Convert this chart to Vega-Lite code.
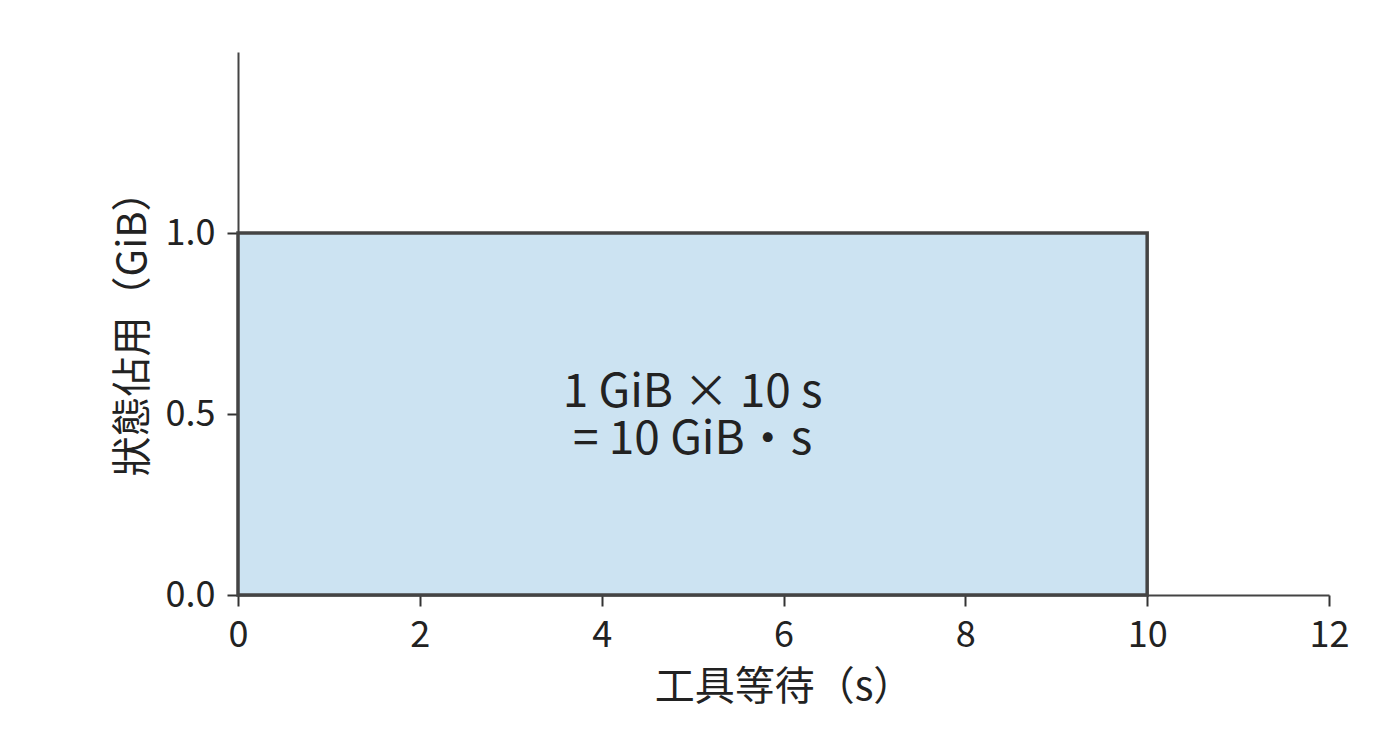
{
  "$schema": "https://vega.github.io/schema/vega-lite/v6.json",
  "width": 1091,
  "height": 543,
  "autosize": {"type": "none"},
  "padding": {"left": 238, "top": 52, "right": 71, "bottom": 149},
  "background": "white",
  "config": {
    "view": {"stroke": null},
    "font": "Noto Sans CJK TC",
    "axis": {
      "grid": false,
      "domainColor": "#444444",
      "domainWidth": 2,
      "tickColor": "#333333",
      "tickWidth": 2,
      "tickSize": 11,
      "labelFont": "Noto Sans CJK TC",
      "labelFontSize": 36,
      "labelColor": "#222222",
      "labelFlush": false,
      "titleFont": "Noto Sans CJK TC",
      "titleFontSize": 40,
      "titleFontWeight": "normal",
      "titleColor": "#222222"
    }
  },
  "datasets": {
    "box": [{"x0": 0, "x1": 10, "y0": 0, "y1": 1}],
    "notes": [
      {"x": 5, "y": 0.558, "label": ["1 GiB × 10 s", "= 10 GiB・s"]}
    ]
  },
  "layer": [
    {
      "data": {"name": "box"},
      "mark": {"type": "rect", "fill": "#cce3f2", "stroke": "#444444", "strokeWidth": 3.5},
      "encoding": {
        "x": {
          "field": "x0", "type": "quantitative",
          "scale": {"domain": [0, 12], "nice": false, "zero": false},
          "axis": {"values": [0, 2, 4, 6, 8, 10, 12], "format": "d", "title": "工具等待（s）", "labelPadding": 12, "titlePadding": 14}
        },
        "x2": {"field": "x1"},
        "y": {
          "field": "y0", "type": "quantitative",
          "scale": {"domain": [0, 1.5], "nice": false},
          "axis": {"values": [0, 0.5, 1.0], "format": ".1f", "title": "狀態佔用（GiB）", "labelPadding": 12, "titlePadding": 12}
        },
        "y2": {"field": "y1"}
      }
    },
    {
      "data": {"name": "notes"},
      "mark": {"type": "text", "fontSize": 46, "lineHeight": 47, "color": "#222222", "align": "center", "baseline": "middle", "font": "Noto Sans CJK TC"},
      "encoding": {
        "x": {"field": "x", "type": "quantitative"},
        "y": {"field": "y", "type": "quantitative"},
        "text": {"field": "label"}
      }
    }
  ]
}
